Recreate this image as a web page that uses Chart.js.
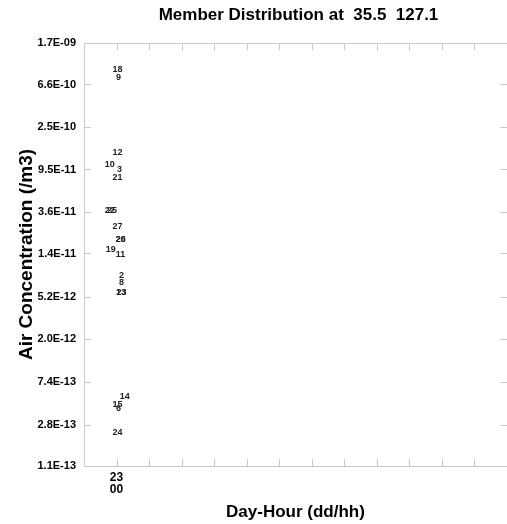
<!DOCTYPE html>
<html>
<head>
<meta charset="utf-8">
<script src="https://cdn.jsdelivr.net/npm/chart.js@4.4.0/dist/chart.umd.min.js"></script>
<style>
  body { margin: 0; background: #fff; }
  #wrap { width: 507px; height: 524px; }
</style>
</head>
<body>
<div id="wrap"><canvas id="myChart"></canvas></div>
<script>
// tick labels as printed on the picture
let yTickLabels = ['1.7E-09', '6.6E-10', '2.5E-10', '9.5E-11', '3.6E-11', '1.4E-11',
  '5.2E-12', '2.0E-12', '7.4E-13', '2.8E-13', '1.1E-13'];
let xTickLabel = ['23', '00'];
let xTickAt = 1;

// ensemble members: name, small horizontal jitter (in x units), concentration
let members    = ['18', '9', '12', '10', '3', '21', '22', '25', '27', '20', '26', '19', '11', '2', '8', '23', '13', '14', '15', '6', '24'];
let memberX    = [1.03, 1.06, 1.03, 0.79, 1.09, 1.03, 0.79, 0.86, 1.03, 1.12, 1.13, 0.82, 1.12, 1.15, 1.15, 1.15, 1.14, 1.25, 1.03, 1.06, 1.03];
let memberConc = [9.2e-10, 7.8e-10, 1.39e-10, 1.06e-10, 9.6e-11, 7.9e-11, 3.7e-11, 3.7e-11, 2.57e-11, 1.91e-11, 1.91e-11, 1.52e-11, 1.36e-11,
  8.4e-12, 7.2e-12, 5.7e-12, 5.7e-12, 5.4e-13, 4.5e-13, 4.07e-13, 2.36e-13];

let fontName = '"Liberation Sans", Arial, Helvetica, sans-serif';
let axisGray = '#c8c8c8';

let points = [];
for (let i = 0; i < members.length; i++) points.push({ x: memberX[i], y: memberConc[i] });

// draws member numbers at their points
let memberText = {
  id: 'memberText',
  afterDatasetsDraw(chart) {
    let ctx = chart.ctx;
    let xs = chart.scales.x, ys = chart.scales.y;
    ctx.save();
    ctx.font = 'bold 9px ' + fontName;
    ctx.fillStyle = '#222';
    ctx.textAlign = 'center';
    ctx.textBaseline = 'middle';
    for (let i = 0; i < members.length; i++) {
      ctx.fillText(members[i], xs.getPixelForValue(memberX[i]), ys.getPixelForValue(memberConc[i]));
    }
    ctx.restore();
  }
};

// inward tick marks on all sides, top frame line and the title
let frame = {
  id: 'frame',
  afterDraw(chart) {
    let ctx = chart.ctx;
    let a = chart.chartArea;
    let xs = chart.scales.x, ys = chart.scales.y;
    ctx.save();
    ctx.strokeStyle = axisGray;
    ctx.lineWidth = 1;
    ctx.beginPath();
    ctx.moveTo(a.left, a.top + 0.5);
    ctx.lineTo(a.right, a.top + 0.5);
    for (let v = 1; v < 13; v++) {
      let px = Math.round(xs.getPixelForValue(v)) + 0.5;
      ctx.moveTo(px, a.bottom); ctx.lineTo(px, a.bottom - 7);
      ctx.moveTo(px, a.top); ctx.lineTo(px, a.top + 7);
    }
    ys.ticks.forEach(t => {
      let py = Math.round(ys.getPixelForValue(t.value)) + 0.5;
      ctx.moveTo(a.left, py); ctx.lineTo(a.left + 7, py);
      ctx.moveTo(a.right - 7, py); ctx.lineTo(a.right, py);
    });
    ctx.stroke();

    ctx.fillStyle = '#000';
    ctx.font = 'bold 17px ' + fontName;
    ctx.textAlign = 'center';
    ctx.textBaseline = 'middle';
    ctx.fillText('Member Distribution at  35.5  127.1', (a.left + a.right) / 2 + 3, 15);
    ctx.restore();
  }
};

let config = {
  type: 'scatter',
  data: {
    datasets: [{
      data: points,
      pointRadius: 0,
      pointHoverRadius: 0
    }]
  },
  options: {
    responsive: true,
    maintainAspectRatio: false,
    animation: false,
    layout: { padding: { top: 43, left: 0, right: 0, bottom: 0 } },
    plugins: { legend: { display: false }, tooltip: { enabled: false } },
    scales: {
      x: {
        type: 'linear',
        min: 0,
        max: 13,
        grid: { display: false, tickLength: 0 },
        border: { display: true, color: axisGray },
        afterBuildTicks: s => { s.ticks = [{ value: xTickAt }]; },
        afterFit: s => { s.height = 58; },
        ticks: {
          autoSkip: false,
          maxRotation: 0,
          padding: 6,
          color: '#000',
          font: { family: fontName, size: 12, weight: 'bold', lineHeight: 1.0 },
          callback: v => (v === xTickAt ? xTickLabel : '')
        },
        title: {
          display: true,
          text: 'Day-Hour (dd/hh)',
          color: '#000',
          font: { family: fontName, size: 17, weight: 'bold' },
          padding: { top: 0, bottom: 1 }
        }
      },
      y: {
        type: 'logarithmic',
        min: 1.1e-13,
        max: 1.7e-9,
        grid: { display: false, tickLength: 0 },
        border: { display: true, color: axisGray },
        afterBuildTicks: s => {
          s.ticks = yTickLabels.slice().reverse().map(t => ({ value: Number(t) }));
        },
        afterFit: s => { s.width = 84; },
        ticks: {
          padding: 8,
          color: '#000',
          font: { family: fontName, size: 11, weight: 'bold' },
          callback: v => yTickLabels.find(t => Math.abs(Number(t) - v) / v < 1e-6) || ''
        },
        title: {
          display: true,
          text: 'Air Concentration (/m3)',
          color: '#000',
          font: { family: fontName, size: 19, weight: 'bold' },
          padding: { top: 15, bottom: 0 }
        }
      }
    }
  },
  plugins: [memberText, frame]
};

let myChart = new Chart(document.getElementById('myChart'), config);
</script>
</body>
</html>
